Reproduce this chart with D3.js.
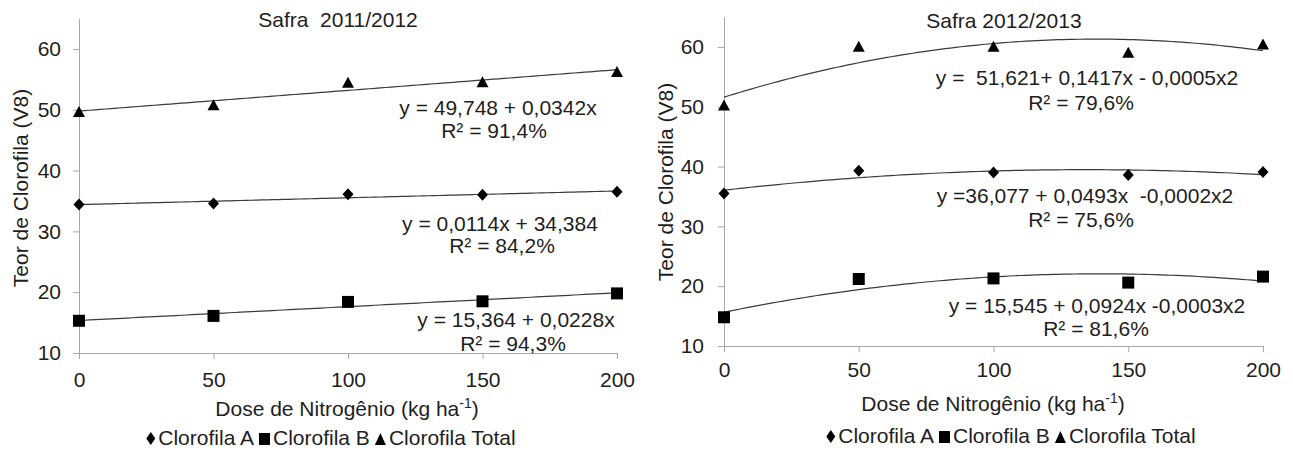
<!DOCTYPE html>
<html>
<head>
<meta charset="utf-8">
<script src="https://cdn.jsdelivr.net/npm/d3@7"></script>
<style>
  body { margin: 0; background: #fff; }
  svg text { font-family: "Liberation Sans", Arial, sans-serif; fill: #1e1e1e; white-space: pre; }
</style>
</head>
<body>
<svg id="chart" width="1293" height="459"></svg>
<script>
// ---- data ----
const doses = [0, 50, 100, 150, 200];
const yTicks = [10, 20, 30, 40, 50, 60];
const seriesNames = ['Clorofila A', 'Clorofila B', 'Clorofila Total'];
const seriesSymbols = ['diamond', 'square', 'triangle'];

const clorofilaA2011 = [34.4, 34.6, 36.1, 36.0, 36.5];
const clorofilaB2011 = [15.3, 16.1, 18.4, 18.5, 19.8];
const clorofilaTotal2011 = [49.7, 50.8, 54.5, 54.6, 56.3];

const clorofilaA2012 = [35.5, 39.3, 39.0, 38.6, 39.1];
const clorofilaB2012 = [14.8, 21.2, 21.3, 20.6, 21.6];
const clorofilaTotal2012 = [50.3, 60.1, 60.1, 59.1, 60.5];

const titles = ['Safra  2011/2012', 'Safra 2012/2013'];
const equations2011 = ['y = 0,0114x + 34,384', 'y = 15,364 + 0,0228x', 'y = 49,748 + 0,0342x'];
const rSquared2011 = ['R² = 84,2%', 'R² = 94,3%', 'R² = 91,4%'];
const equations2012 = ['y =36,077 + 0,0493x  -0,0002x2', 'y = 15,545 + 0,0924x -0,0003x2', 'y =  51,621+ 0,1417x - 0,0005x2'];
const rSquared2012 = ['R² = 75,6%', 'R² = 81,6%', 'R² = 79,6%'];

const FONT = 21;

// least squares polynomial fit (normal equations)
function polyFit(xs, ys, degree) {
  const n = degree + 1;
  const A = [], b = [];
  for (let i = 0; i < n; i++) {
    A.push([]);
    for (let j = 0; j < n; j++) A[i].push(d3.sum(xs, x => Math.pow(x, i + j)));
    b.push(d3.sum(xs.map((x, k) => Math.pow(x, i) * ys[k])));
  }
  for (let c = 0; c < n; c++) {
    for (let r = c + 1; r < n; r++) {
      const f = A[r][c] / A[c][c];
      for (let k = c; k < n; k++) A[r][k] -= f * A[c][k];
      b[r] -= f * b[c];
    }
  }
  const coef = new Array(n).fill(0);
  for (let r = n - 1; r >= 0; r--) {
    let s = b[r];
    for (let k = r + 1; k < n; k++) s -= A[r][k] * coef[k];
    coef[r] = s / A[r][r];
  }
  return coef;
}

function symbolPath(type, w, h) {
  if (type === 'diamond') return `M0,${-h / 2}L${w / 2},0L0,${h / 2}L${-w / 2},0Z`;
  if (type === 'square') return `M${-w / 2},${-h / 2}h${w}v${h}h${-w}Z`;
  return `M0,${-h / 2}L${w / 2},${h / 2}L${-w / 2},${h / 2}Z`;
}

const markerSize = { diamond: [11, 12], square: [12, 12], triangle: [12, 11] };
const legendSize = { diamond: [9, 13], square: [11, 12], triangle: [11, 12] };

class DosePanel {
  constructor(config, series) {
    this.config = config;
    this.series = series;
    this.draw();
  }

  draw() {
    const vis = this;
    const c = vis.config;
    const svg = d3.select('#chart');
    const g = svg.append('g');

    vis.xScale = d3.scaleLinear().domain([0, 200]).range([c.x0, c.x1]);
    vis.yScale = d3.scaleLinear().domain([10, 65]).range([c.y0, c.y1]);

    // axes
    const xAxis = d3.axisBottom(vis.xScale).tickValues(doses).tickSize(6).tickSizeOuter(0).tickPadding(c.xPad);
    const yAxis = d3.axisLeft(vis.yScale).tickValues(yTicks).tickSize(6).tickSizeOuter(0).tickPadding(c.yPad);

    const xg = g.append('g').attr('transform', `translate(0,${c.y0})`).call(xAxis);
    const yg = g.append('g').attr('transform', `translate(${c.x0},0)`).call(yAxis);
    [xg, yg].forEach(a => {
      a.select('.domain').attr('stroke', '#a8a8a8');
      a.selectAll('.tick line').attr('stroke', '#a8a8a8');
      a.selectAll('.tick text')
        .attr('fill', '#1e1e1e')
        .style('font-size', FONT + 'px')
        .style('font-family', '"Liberation Sans", Arial, sans-serif');
    });

    // title
    g.append('text')
      .attr('x', c.titleX).attr('y', c.titleY)
      .attr('text-anchor', 'middle')
      .style('font-size', FONT + 'px')
      .text(c.title);

    // axis titles
    const xt = g.append('text')
      .attr('x', c.xTitleX).attr('y', c.xTitleY)
      .attr('text-anchor', 'middle')
      .style('font-size', FONT + 'px');
    xt.append('tspan').text('Dose de Nitrogênio (kg ha');
    xt.append('tspan').attr('dy', -8).style('font-size', '14px').text('-1');
    xt.append('tspan').attr('dy', 8).text(')');

    g.append('text')
      .attr('transform', `translate(${c.yTitleX},${c.yTitleY}) rotate(-90)`)
      .attr('text-anchor', 'middle')
      .style('font-size', FONT + 'px')
      .text('Teor de Clorofila (V8)');

    // trend lines
    const xs = d3.range(0, 200.5, 2);
    vis.series.forEach(s => {
      const coef = polyFit(doses, s.values, c.degree);
      const f = x => coef.reduce((acc, k, i) => acc + k * Math.pow(x, i), 0);
      const line = d3.line().x(x => vis.xScale(x)).y(x => vis.yScale(f(x)));
      g.append('path')
        .datum(xs)
        .attr('fill', 'none')
        .attr('stroke', '#3a3a3a')
        .attr('stroke-width', 1.2)
        .attr('d', line);
    });

    // markers
    vis.series.forEach(s => {
      const [w, h] = markerSize[s.symbol];
      g.selectAll(null)
        .data(doses.map((d, i) => ({ dose: d, value: s.values[i] })))
        .join('path')
        .attr('transform', d => `translate(${vis.xScale(d.dose)},${vis.yScale(d.value)})`)
        .attr('d', symbolPath(s.symbol, w, h))
        .attr('fill', '#000');
    });

    // equations
    vis.series.forEach((s, i) => {
      const pos = c.labels[i];
      g.append('text')
        .attr('x', pos[0]).attr('y', pos[1])
        .attr('text-anchor', 'middle')
        .style('font-size', FONT + 'px')
        .text(s.equation);
      g.append('text')
        .attr('x', pos[2]).attr('y', pos[3])
        .attr('text-anchor', 'middle')
        .style('font-size', FONT + 'px')
        .text(s.r2);
    });

    // legend
    const lg = g.append('g');
    let cursor = 0;
    seriesNames.forEach((name, i) => {
      const sym = seriesSymbols[i];
      const [w, h] = legendSize[sym];
      lg.append('path')
        .attr('transform', `translate(${cursor + w / 2},${c.legendY - h / 2})`)
        .attr('d', symbolPath(sym, w, h))
        .attr('fill', '#000');
      cursor += w + 3;
      const t = lg.append('text')
        .attr('x', cursor).attr('y', c.legendY)
        .style('font-size', FONT + 'px')
        .text(name);
      cursor += t.node().getComputedTextLength() + 5;
    });
    const total = cursor - 5;
    lg.attr('transform', `translate(${c.legendX - total / 2},0)`);
  }
}

const makeSeries = (vals, eqs, r2s) => vals.map((v, i) => ({
  values: v, symbol: seriesSymbols[i], equation: eqs[i], r2: r2s[i]
}));

new DosePanel({
  x0: 79, x1: 617, y0: 353, y1: 18.5,
  xPad: 13, yPad: 12, degree: 1,
  title: titles[0], titleX: 338, titleY: 27,
  xTitleX: 347, xTitleY: 416,
  yTitleX: 28, yTitleY: 188,
  legendX: 331, legendY: 445,
  labels: [[500, 231, 502, 253], [516, 327, 513, 351], [498, 115, 494, 138]]
}, makeSeries([clorofilaA2011, clorofilaB2011, clorofilaTotal2011], equations2011, rSquared2011));

new DosePanel({
  x0: 724, x1: 1263, y0: 346, y1: 17,
  xPad: 10, yPad: 14, degree: 2,
  title: titles[1], titleX: 1004, titleY: 28,
  xTitleX: 993, xTitleY: 411,
  yTitleX: 673, yTitleY: 182,
  legendX: 1011, legendY: 443,
  labels: [[1085, 203, 1081, 227], [1097, 313, 1096, 336], [1087, 85, 1081, 110]]
}, makeSeries([clorofilaA2012, clorofilaB2012, clorofilaTotal2012], equations2012, rSquared2012));
</script>
</body>
</html>
